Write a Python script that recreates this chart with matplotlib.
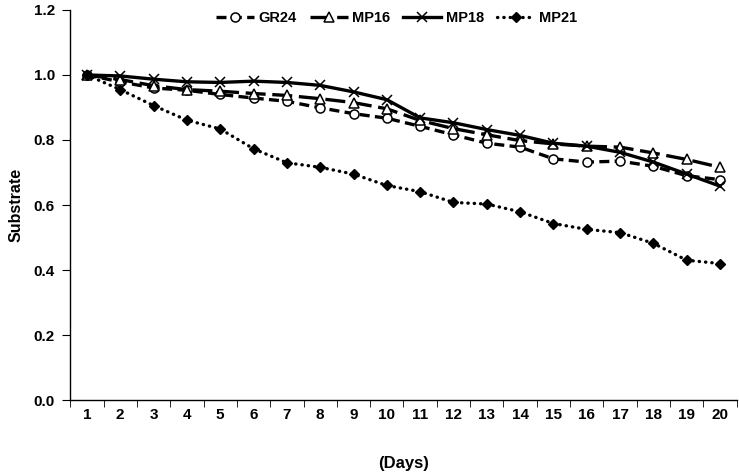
import numpy as np
import matplotlib.pyplot as plt
from matplotlib.ticker import FixedLocator

plt.rcParams['font.family'] = ['Liberation Sans', 'DejaVu Sans']
plt.rcParams['font.weight'] = 'bold'

days = np.arange(1, 21)

gr24 = [1.0, 0.979, 0.96, 0.953, 0.94, 0.929, 0.919, 0.899, 0.881, 0.867,
        0.842, 0.816, 0.79, 0.778, 0.742, 0.732, 0.735, 0.719, 0.69, 0.678]
mp16 = [1.0, 0.986, 0.967, 0.955, 0.95, 0.943, 0.937, 0.927, 0.915, 0.896,
        0.86, 0.835, 0.816, 0.798, 0.788, 0.781, 0.778, 0.76, 0.74, 0.716]
mp18 = [1.0, 0.997, 0.987, 0.979, 0.977, 0.981, 0.977, 0.968, 0.948, 0.924,
        0.868, 0.853, 0.832, 0.814, 0.79, 0.781, 0.762, 0.732, 0.695, 0.658]
mp21 = [1.0, 0.955, 0.906, 0.861, 0.834, 0.773, 0.73, 0.716, 0.695, 0.66,
        0.641, 0.608, 0.603, 0.579, 0.543, 0.525, 0.515, 0.482, 0.43, 0.42]

fig = plt.figure(figsize=(7.39, 4.74), dpi=100)
ax = fig.add_axes([0.095, 0.156, 0.902, 0.823])

ax.plot(days, gr24, color='black', lw=2.4, linestyle=(0, (3, 1.6)),
        marker='o', ms=6.5, mfc='white', mec='black', mew=1.1, label='GR24')
ax.plot(days, mp16, color='black', lw=2.4, linestyle=(0, (6, 2)),
        marker='^', ms=7.5, mfc='white', mec='black', mew=1.1, label='MP16')
ax.plot(days, mp18, color='black', lw=2.4, linestyle='-',
        marker='x', ms=7.5, mec='black', mew=1.1, label='MP18')
ax.plot(days, mp21, color='black', lw=2.4, linestyle=(0, (0.1, 1.8)),
        dash_capstyle='round', marker='D', ms=5.5, mfc='black', mec='black',
        label='MP21')

ax.set_xlim(0.5, 20.5)
ax.set_ylim(0, 1.2)
ax.set_yticks(np.arange(0, 1.21, 0.2))
ax.set_yticklabels([f'{v:.1f}' for v in np.arange(0, 1.21, 0.2)])
ax.set_xticks(days)
ax.set_xticklabels([str(d) for d in days])
ax.xaxis.set_minor_locator(FixedLocator(np.arange(0.5, 21, 1)))
ax.tick_params(axis='x', which='major', length=0, pad=6, labelsize=11)
ax.tick_params(axis='x', which='minor', length=5, direction='out')
ax.tick_params(axis='y', length=6, direction='out', labelsize=11, pad=5)
for lab in ax.get_xticklabels() + ax.get_yticklabels():
    lab.set_fontweight('bold')

ax.spines['top'].set_visible(False)
ax.spines['right'].set_visible(False)
ax.spines['left'].set_linewidth(1.0)
ax.spines['bottom'].set_linewidth(1.0)

ax.set_xlabel('(Days)', fontsize=12, fontweight='bold', labelpad=24)
ax.set_ylabel('Substrate', fontsize=11.5, fontweight='bold', labelpad=7)

ax.legend(loc='upper center', bbox_to_anchor=(0.49, 1.03), ncol=4, frameon=False,
          prop={'weight': 'bold', 'size': 10.5}, handlelength=2.6,
          columnspacing=0.9, handletextpad=0.3)

fig.savefig('out.png', dpi=100)
